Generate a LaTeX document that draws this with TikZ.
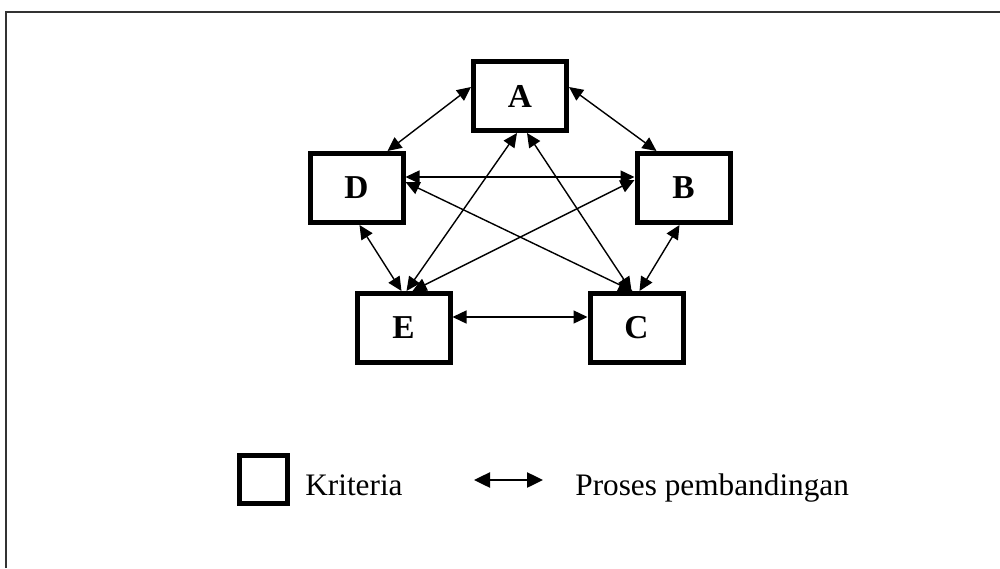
\documentclass[tikz,border=0pt]{standalone}
\usepackage{fontspec}
\setmainfont{Liberation Serif}
\usepackage{tikz}
\usetikzlibrary{arrows.meta,positioning,calc}
\tikzset{
kriteria/.style = {draw, fill=white, rectangle, line width=0.1cm, minimum width=1.86cm, minimum height=1.38cm, font=\fontsize{19}{22}\selectfont\bfseries},
legendbox/.style = {draw, rectangle, line width=0.1cm, minimum width=0.96cm, minimum height=0.96cm},
legendtext/.style = {inner sep=0pt, anchor=base west, font=\fontsize{17.8}{21}\selectfont},
compare/.style = {<->, line width=0.8pt},
pt/.style = {coordinate}
}

\begin{document}
\begin{tikzpicture}[on grid, >={Triangle[length=0.28cm,width=0.26cm]}]
  \useasboundingbox (0,0) rectangle (20,11.36);
  \draw [line width=0.04cm, black!80] (0.12,0) -- (0.12,11.12) -- (20,11.12);

  \node [kriteria]                                      (A)   at (10.40,9.44) {A};
  \node [kriteria, below left=1.84cm and 3.27cm of A]   (D)   {D};
  \node [kriteria, below right=1.84cm and 3.27cm of A]  (B)   {B};
  \node [kriteria, below right=2.8cm and 0.94cm of D]   (E)   {E};
  \node [kriteria, below left=2.8cm and 0.94cm of B]    (C)   {C};

  \draw [compare] ([yshift=0.18cm]A.west) -- ([xshift=0.62cm]D.north);
  \draw [compare] ([yshift=0.18cm]A.east) -- ([xshift=-0.54cm]B.north);
  \draw [compare] ([yshift=0.22cm]D.east) -- ([yshift=0.22cm]B.west);
  \draw [compare] ([yshift=0.12cm]D.east) -- ([xshift=-0.08cm]C.north);
  \draw [compare] ([xshift=-0.06cm]A.south) -- ([xshift=0.06cm]E.north);
  \draw [compare] ([xshift=0.14cm]A.south) -- ([xshift=-0.10cm]C.north);
  \draw [compare] ([xshift=0.18cm]E.north) -- ([yshift=0.16cm]B.west);
  \draw [compare] ([xshift=0.06cm]D.south) -- ([xshift=-0.04cm]E.north);
  \draw [compare] ([xshift=-0.08cm]B.south) -- ([xshift=0.06cm]C.north);
  \draw [compare] ([yshift=0.22cm]E.east) -- ([yshift=0.22cm]C.west);

  % legend
  \node [legendbox]                  (legbox)  at (5.27,1.77) {};
  \node [legendtext]                 (legkrit) at (6.10,1.46) {Kriteria};
  \node [pt]                         (legl)    at (9.48,1.76) {};
  \node [pt]                         (legr)    at (10.86,1.76) {};
  \node [legendtext]                 (legpros) at (11.50,1.46) {Proses pembandingan};
  \draw [<->, line width=0.05cm, >={Triangle[length=0.32cm,width=0.30cm]}] (legl) -- (legr);
\end{tikzpicture}
\end{document}
